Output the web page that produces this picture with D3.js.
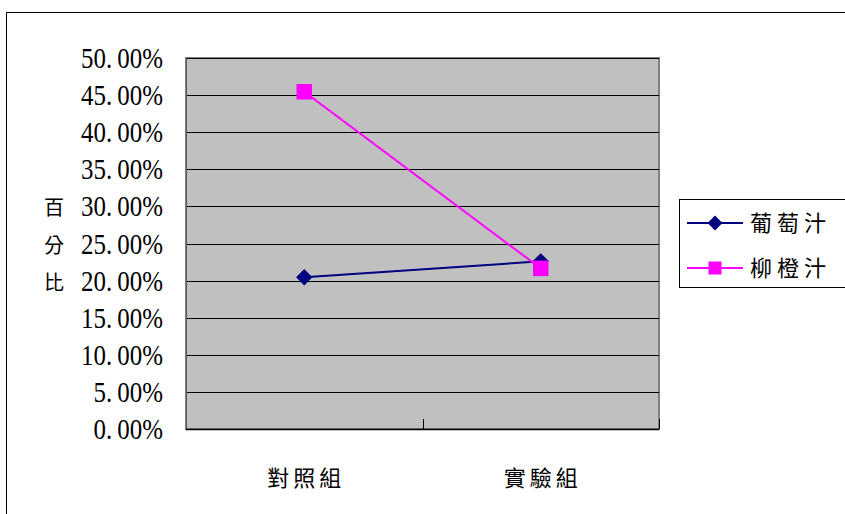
<!DOCTYPE html>
<html><head><meta charset="utf-8">
<script src="https://cdn.jsdelivr.net/npm/d3@7"></script>
<style>body{margin:0;background:#fff}</style>
</head><body>
<svg id="c" width="845" height="514"></svg>
<script>
const categories = ["對照組", "實驗組"];
const seriesNames = ["葡萄汁", "柳橙汁"];
const grapeValues = [0.2045, 0.2260];
const orangeValues = [0.4545, 0.2165];
const yTicks = [0, 0.05, 0.10, 0.15, 0.20, 0.25, 0.30, 0.35, 0.40, 0.45, 0.50];
const yTitle = ["百", "分", "比"];

const svg = d3.select("#c");
const m = {l: 186, t: 58, r: 659, b: 429};
const cjk = "'Noto Sans CJK TC','Noto Serif CJK TC',serif";

svg.append("rect").attr("x", 6.5).attr("y", 12.5).attr("width", 850).attr("height", 520)
  .attr("fill", "#fff").attr("stroke", "#000").attr("stroke-width", 1);

const x = d3.scaleBand().domain(categories).range([m.l, m.r]);
const y = d3.scaleLinear().domain([0, 0.5]).range([m.b, m.t]);

svg.append("rect").attr("x", m.l).attr("y", m.t).attr("width", m.r - m.l).attr("height", m.b - m.t)
  .attr("fill", "#C0C0C0").attr("stroke", "#808080").attr("stroke-width", 2);

// gridlines
svg.append("g").selectAll("line").data(yTicks.filter(d => d > 0)).join("line")
  .attr("x1", m.l).attr("x2", m.r).attr("y1", d => Math.round(y(d)) + 0.5).attr("y2", d => Math.round(y(d)) + 0.5)
  .attr("stroke", "#000").attr("stroke-width", 1);

// left axis line
svg.append("line").attr("x1", m.l + 0.5).attr("x2", m.l + 0.5).attr("y1", m.t).attr("y2", m.b)
  .attr("stroke", "#555").attr("stroke-width", 1);

// bottom axis
svg.append("line").attr("x1", m.l).attr("x2", m.r).attr("y1", m.b + 0.5).attr("y2", m.b + 0.5)
  .attr("stroke", "#000").attr("stroke-width", 1.5);
const bounds = categories.slice(1).map(c => x(c)).concat([m.r]);
svg.append("g").selectAll("line").data(bounds).join("line")
  .attr("x1", d => Math.round(d) + 0.5).attr("x2", d => Math.round(d) + 0.5)
  .attr("y1", m.b - 10).attr("y2", m.b).attr("stroke", "#000");

// y labels
const fmt = d3.format(".2f");
const yl = svg.append("g").selectAll("text").data(yTicks).join("text")
  .attr("transform", d => `translate(163,${y(d) + 10}) scale(0.86,1)`)
  .attr("text-anchor", "end")
  .attr("font-family", "'Liberation Serif', serif").attr("font-size", 29).attr("fill", "#000");
yl.each(function(d) {
  const s = fmt(d * 100).split(".");
  const t = d3.select(this);
  t.append("tspan").text(s[0] + ".");
  t.append("tspan").attr("dx", 6).text(s[1] + "%");
});

// y title
svg.append("g").selectAll("text").data(yTitle).join("text")
  .attr("x", 54).attr("y", (d, i) => 215 + i * 37.5)
  .attr("text-anchor", "middle").attr("font-family", cjk).attr("font-size", 20).text(d => d);

// x labels
svg.append("g").selectAll("text").data(categories).join("text")
  .attr("x", d => x(d) + x.bandwidth() / 2 + 2).attr("y", 486)
  .attr("text-anchor", "middle").attr("font-family", cjk).attr("font-size", 22)
  .attr("letter-spacing", 4).text(d => d);

// series
const series = [
  {name: seriesNames[0], values: grapeValues, color: "#000080", shape: d3.symbolDiamond2},
  {name: seriesNames[1], values: orangeValues, color: "#FF00FF", shape: d3.symbolSquare}
];
const line = d3.line().x((d, i) => x(categories[i]) + x.bandwidth() / 2).y(d => y(d));
series.forEach(s => {
  svg.append("path").datum(s.values).attr("d", line).attr("fill", "none")
    .attr("stroke", s.color).attr("stroke-width", 2);
});
series.forEach(s => {
  svg.append("g").selectAll("path").data(s.values).join("path")
    .attr("transform", (d, i) => `translate(${x(categories[i]) + x.bandwidth() / 2},${y(d)})`)
    .attr("d", d3.symbol().type(s.shape).size(s.shape === d3.symbolSquare ? 240 : 170))
    .attr("fill", s.color);
});

// legend
const lg = svg.append("g");
lg.append("rect").attr("x", 679.5).attr("y", 199.5).attr("width", 170).attr("height", 88)
  .attr("fill", "#fff").attr("stroke", "#000").attr("stroke-width", 1);
series.forEach((s, i) => {
  const cy = 223 + i * 45;
  lg.append("line").attr("x1", 687).attr("x2", 743).attr("y1", cy).attr("y2", cy)
    .attr("stroke", s.color).attr("stroke-width", 2);
  lg.append("path").attr("transform", `translate(715,${cy})`)
    .attr("d", d3.symbol().type(s.shape).size(s.shape === d3.symbolSquare ? 170 : 140)).attr("fill", s.color);
  lg.append("text").attr("x", 750).attr("y", cy + 8).attr("font-family", cjk).attr("font-size", 22)
    .attr("letter-spacing", 5).text(s.name);
});
</script>
</body></html>
